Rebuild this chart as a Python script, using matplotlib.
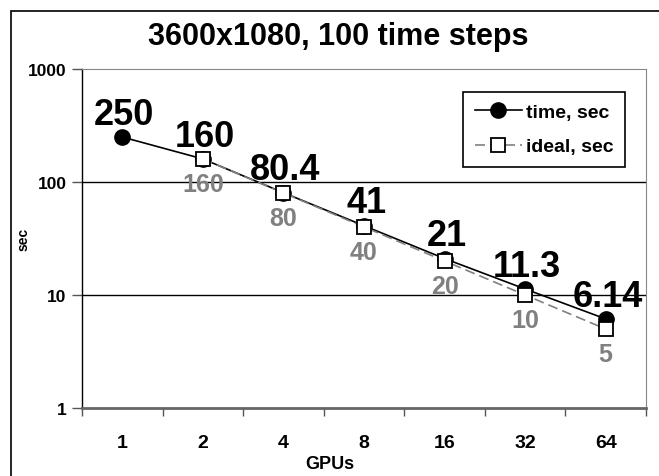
import matplotlib.pyplot as plt
import matplotlib.patches as mpatches

plt.rcParams['font.family'] = ['Liberation Sans', 'DejaVu Sans']
plt.rcParams['font.weight'] = 'bold'

gpus = ["1", "2", "4", "8", "16", "32", "64"]
time_sec = [250, 160, 80.4, 41, 21, 11.3, 6.14]
time_labels = ["250", "160", "80.4", "41", "21", "11.3", "6.14"]
ideal_sec = [160, 80, 40, 20, 10, 5]
ideal_labels = ["160", "80", "40", "20", "10", "5"]

fig = plt.figure(figsize=(6.59, 4.77), dpi=100)
ax = fig.add_axes([82 / 659, 1 - 409 / 477, 564 / 659, 339 / 477])

# outer chart frame (Excel style), right and bottom run off the picture
fig.add_artist(mpatches.Rectangle((11 / 659, -0.2), 1.2, 1 - 12 / 477 + 0.2,
                                  transform=fig.transFigure, fill=False,
                                  edgecolor="black", linewidth=1.2))

x = list(range(len(gpus)))
x_ideal = x[1:]

ax.plot(x, time_sec, color="black", linewidth=1.2, marker="o",
        markersize=11, markerfacecolor="black", markeredgecolor="black",
        label="time, sec", zorder=3)
ax.plot(x_ideal, ideal_sec, color="#808080", linewidth=1.2, dashes=(6, 3),
        marker="s", markersize=9.5, markerfacecolor="white",
        markeredgecolor="black", markeredgewidth=1.3,
        label="ideal, sec", zorder=4)

for xi, v, lab in zip(x, time_sec, time_labels):
    ax.annotate(lab, (xi, v), xytext=(1.5, 16.5), textcoords="offset points",
                ha="center", va="center", fontsize=26, fontweight="bold",
                color="black", zorder=5)
for xi, v, lab in zip(x_ideal, ideal_sec, ideal_labels):
    ax.annotate(lab, (xi, v), xytext=(0, -18), textcoords="offset points",
                ha="center", va="center", fontsize=18, fontweight="bold",
                color="#808080", zorder=5)

ax.set_yscale("log")
ax.set_ylim(1, 1000)
ax.set_xlim(-0.5, len(gpus) - 0.5)
ax.set_yticks([1, 10, 100, 1000])
ax.set_yticklabels(["1", "10", "100", "1000"])
ax.minorticks_off()
ax.set_xticks(x)
ax.set_xticklabels(gpus)
ax.set_xticks([i - 0.5 for i in range(len(gpus) + 1)], minor=True)
ax.tick_params(axis="x", which="major", length=0, pad=18.5, labelsize=14)
ax.tick_params(axis="x", which="minor", length=6, width=1, color="#555555",
               direction="out")
ax.tick_params(axis="y", which="major", length=7, width=1, color="#555555",
               labelsize=12.5, pad=4)

for yv in [10, 100]:
    ax.axhline(yv, color="black", linewidth=1, zorder=1)

ax.spines["left"].set_color("black")
ax.spines["left"].set_linewidth(1)
ax.spines["bottom"].set_color("#666666")
ax.spines["bottom"].set_linewidth(2)
ax.spines["top"].set_color("#888888")
ax.spines["right"].set_color("#888888")

fig.text(330 / 659, 1 - 465 / 477, "GPUs", ha="center", va="center",
         fontsize=13, fontweight="bold")
ax.set_ylabel("sec", fontsize=10, fontweight="bold")
ax.yaxis.set_label_coords(-0.092, 0.5)

fig.text(338 / 659, 1 - 37 / 477, "3600x1080, 100 time steps", ha="center",
         va="center", fontsize=22, fontweight="bold")

leg = ax.legend(loc="upper right",
                bbox_to_anchor=((625 - 82) / 564, (409 - 93) / 339),
                borderaxespad=0, fancybox=False, edgecolor="black",
                framealpha=1, prop={"size": 14, "weight": "bold"},
                handlelength=2.4, borderpad=0.6, labelspacing=0.85,
                handletextpad=0.2)
leg.get_frame().set_linewidth(1.2)

fig.savefig("out.png", dpi=100)
